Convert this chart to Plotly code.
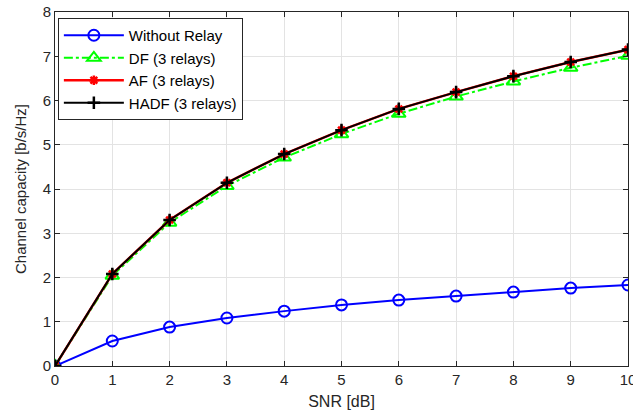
import plotly.graph_objects as go

snr = [0, 1, 2, 3, 4, 5, 6, 7, 8, 9, 10]
without_relay = [0, 0.565, 0.88, 1.085, 1.24, 1.38, 1.49, 1.58, 1.67, 1.76, 1.83]
df_3 = [0, 2.04, 3.24, 4.07, 4.71, 5.24, 5.70, 6.09, 6.43, 6.74, 7.01]
af_3 = [0, 2.08, 3.30, 4.14, 4.79, 5.33, 5.81, 6.19, 6.55, 6.87, 7.15]
hadf_3 = [0, 2.08, 3.30, 4.14, 4.79, 5.33, 5.81, 6.19, 6.55, 6.87, 7.15]
x_ticks = list(range(0, 11))
y_ticks = list(range(0, 9))

font = "Liberation Sans, Arial, sans-serif"
fig = go.Figure()
fig.add_trace(go.Scatter(x=snr, y=without_relay, name="Without Relay", mode="lines+markers",
                         line=dict(color="#0000ff", width=2),
                         marker=dict(symbol="circle-open", size=11, color="#0000ff", line=dict(width=2))))
fig.add_trace(go.Scatter(x=snr, y=df_3, name="DF (3 relays)", mode="lines+markers",
                         line=dict(color="#00ff00", width=2, dash="dashdot"),
                         marker=dict(symbol="triangle-up-open", size=12, color="#00ff00", line=dict(width=2))))
fig.add_trace(go.Scatter(x=snr, y=af_3, name="AF (3 relays)", mode="lines+markers",
                         line=dict(color="#ff0000", width=2.5),
                         marker=dict(symbol="asterisk-open", size=8, color="#ff0000", line=dict(width=2.5))))
fig.add_trace(go.Scatter(x=snr, y=hadf_3, name="HADF (3 relays)", mode="lines+markers",
                         line=dict(color="#000000", width=2),
                         marker=dict(symbol="cross-thin-open", size=9, color="#000000", line=dict(width=2.5))))

axis_common = dict(showgrid=True, gridcolor="#e3e3e3", gridwidth=1, showline=True, linecolor="#262626",
                   linewidth=1, mirror="ticks", ticks="inside", ticklen=5, tickcolor="#262626",
                   zeroline=False, ticklabeloverflow="allow", automargin=False,
                   tickfont=dict(family=font, size=15, color="#262626"))
fig.update_xaxes(range=[0, 10], tickvals=x_ticks, **axis_common,
                 title=dict(text="SNR [dB]", font=dict(family=font, size=16, color="#262626"), standoff=8))
fig.update_yaxes(range=[0, 8], tickvals=y_ticks, **axis_common,
                 title=dict(text="Channel capacity [b/s/Hz]", font=dict(family=font, size=15, color="#262626"), standoff=12))
fig.update_layout(width=633, height=413, margin=dict(l=55, r=5, t=12, b=47),
                  paper_bgcolor="white", plot_bgcolor="white",
                  legend=dict(x=0.005, y=0.983, xanchor="left", yanchor="top", bgcolor="white",
                              bordercolor="#262626", borderwidth=1,
                              font=dict(family=font, size=15, color="#000000"),
                              tracegroupgap=0, itemwidth=60),
                  showlegend=True)
fig.write_html("out.html")
